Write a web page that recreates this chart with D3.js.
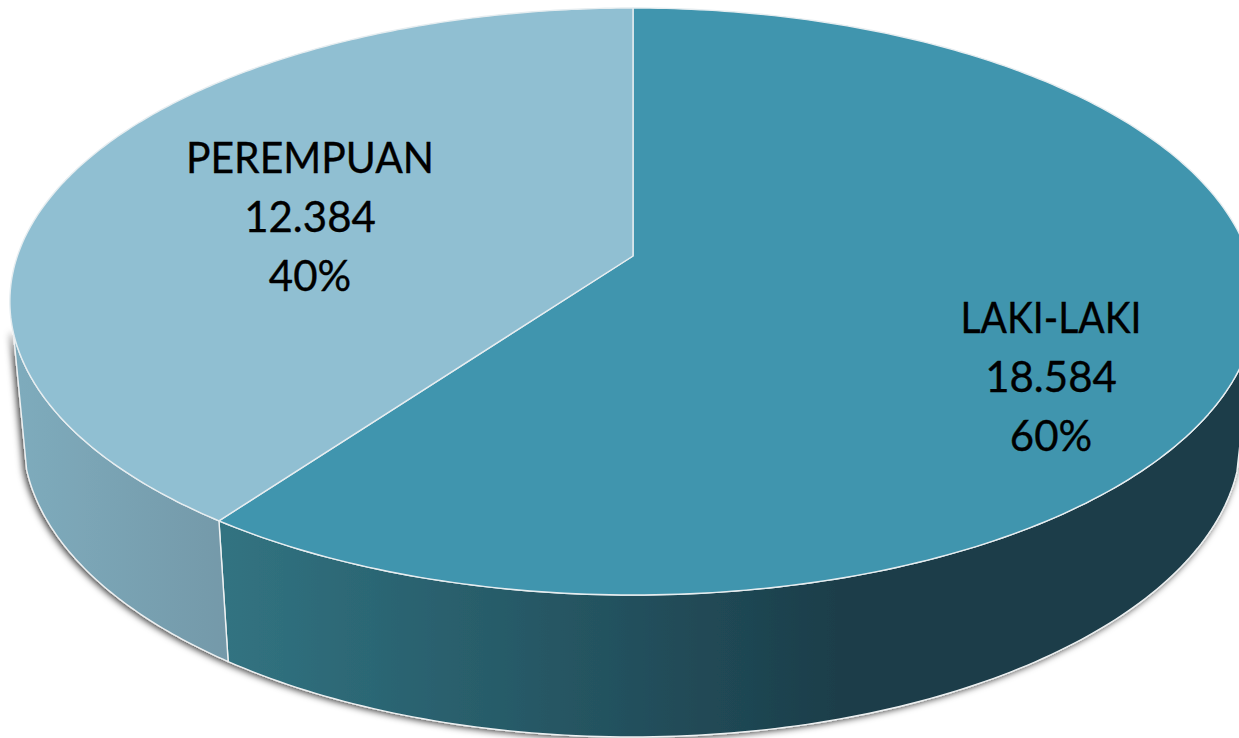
<!DOCTYPE html>
<html>
<head>
<meta charset="utf-8">
<script src="https://cdn.jsdelivr.net/npm/d3@7"></script>
<style>
  html,body{margin:0;padding:0;background:#fff;overflow:hidden}
  text{font-family:Lato,"Open Sans",sans-serif;fill:#000;stroke:#000;stroke-width:0.35}
</style>
</head>
<body>
<div id="grafico"></div>
<script>
// dados
const categorias=['LAKI-LAKI','PEREMPUAN'];
const valores=[18584,12384];
const percentuais=['60%','40%'];

const W=1239,H=738;
const cores=['#4095ae','#90bfd2'];
const formato=d3.formatLocale({decimal:',',thousands:'.',grouping:[3],currency:['','']}).format(',d');

// elipse de cima e de baixo do disco
const topo={cx:633,cy:301,rx:623,ry:293};
const base={cx:632,cy:437,rx:609,ry:300};
const limiteY=332; //onde a parede lateral comeca a aparecer

// perspectiva: disco unitario -> tela
const escX=d3.scaleLinear().domain([0,1]).range([0,615.6]);
const escY=d3.scaleLinear().domain([0,1]).range([256,9.24]);
const persp=0.155;

function pontoTopo(a){
  const u=Math.sin(a),v=Math.cos(a),w=1+persp*v;
  return [topo.cx+escX(u)/w,escY(v)/w];
}
function pontoBase(p){ //mesmo parametro da elipse, na elipse de baixo
  const t=Math.atan2((p[1]-topo.cy)/topo.ry,(p[0]-topo.cx)/topo.rx);
  return [base.cx+base.rx*Math.cos(t),base.cy+base.ry*Math.sin(t)];
}
function amostra(a0,a1){
  return d3.range(0,241).map(i=>a0+(a1-a0)*i/240);
}

const svg=d3.select('#grafico').append('svg')
  .attr('width',W).attr('height',H).attr('viewBox',[0,0,W,H])
  .style('display','block');

const defs=svg.append('defs');
const sombra=defs.append('filter').attr('id','sombra')
  .attr('x','-5%').attr('y','-5%').attr('width','110%').attr('height','110%');
sombra.append('feDropShadow').attr('dx',-2).attr('dy',1).attr('stdDeviation',3.5)
  .attr('flood-color','#000').attr('flood-opacity',0.8);

const grad0=defs.append('linearGradient').attr('id','parede0')
  .attr('gradientUnits','userSpaceOnUse').attr('x1',228).attr('x2',860).attr('y1',0).attr('y2',0);
grad0.append('stop').attr('offset',0).attr('stop-color','#317381');
grad0.append('stop').attr('offset',1).attr('stop-color','#1b3c48');
const grad1=defs.append('linearGradient').attr('id','parede1')
  .attr('gradientUnits','userSpaceOnUse').attr('x1',20).attr('x2',228).attr('y1',0).attr('y2',0);
grad1.append('stop').attr('offset',0).attr('stop-color','#7eabbc');
grad1.append('stop').attr('offset',1).attr('stop-color','#7499a9');

const fatias=d3.pie().sort(null).value(d=>d)(valores);
const linha=d3.line();

// paredes laterais
const paredes=fatias.map(f=>{
  const arco=amostra(f.startAngle,f.endAngle).map(pontoTopo).filter(p=>p[1]>=limiteY);
  return linha(arco.concat(arco.map(pontoBase).reverse()))+'Z';
});
svg.append('g').attr('filter','url(#sombra)')
  .selectAll('path').data(paredes).join('path')
  .attr('d',d=>d)
  .attr('fill',(d,i)=>`url(#parede${i})`)
  .attr('stroke','#eef1f2').attr('stroke-width',1.4).attr('stroke-linejoin','round');

// face de cima
svg.append('g').selectAll('path').data(fatias).join('path')
  .attr('d',f=>linha([[topo.cx,escY(0)]].concat(amostra(f.startAngle,f.endAngle).map(pontoTopo)))+'Z')
  .attr('fill',(f,i)=>cores[i])
  .attr('stroke','#e6edf0').attr('stroke-width',1.4).attr('stroke-linejoin','round');

// rotulos
const posRotulo=[[1051,333],[310,173]];
const larguraNome=[181,248];
const rotulos=svg.append('g').attr('font-size',42).attr('text-anchor','middle')
  .selectAll('g').data(categorias).join('g')
  .attr('transform',(d,i)=>`translate(${posRotulo[i]})`);
rotulos.append('text').attr('textLength',(d,i)=>larguraNome[i]).attr('lengthAdjust','spacingAndGlyphs').text(d=>d);
rotulos.append('text').attr('y',59).text((d,i)=>formato(valores[i]));
rotulos.append('text').attr('y',118).text((d,i)=>percentuais[i]);
</script>
</body>
</html>
